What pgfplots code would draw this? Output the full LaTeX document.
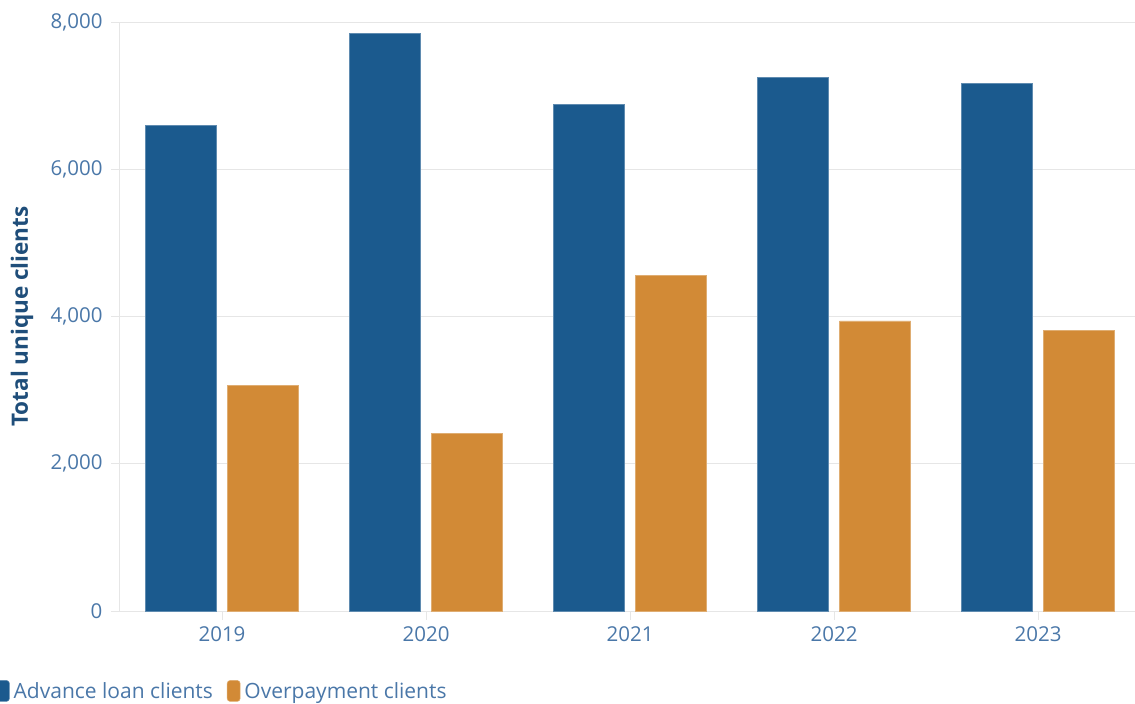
\documentclass[border=0pt]{standalone}
\usepackage{pgfplots}
\pgfplotsset{compat=1.18}
\usepackage{fontspec}
\setmainfont{Open Sans}
\definecolor{barblue}{HTML}{1B5A8E}
\definecolor{barorange}{HTML}{D28A36}
\definecolor{ticktext}{HTML}{4A77A8}
\definecolor{labeltext}{HTML}{1F4E7A}
\definecolor{gridgray}{HTML}{E6E6E6}
\begin{document}
\begin{tikzpicture}
\begin{axis}[
  at={(0,0)}, anchor=south west,
  scale only axis,
  width=1015pt, height=589pt,
  xmin=-0.5, xmax=4.475,
  ymin=0, ymax=8000,
  xtick={0,1,2,3,4},
  xticklabels={2019,2020,2021,2022,2023},
  ytick={0,2000,4000,6000,8000},
  /pgf/number format/assume math mode=true,
  yticklabel style={/pgf/number format/1000 sep={,}},
  scaled y ticks=false,
  tick label style={font=\fontsize{20.5}{24}\selectfont, text=ticktext},
  ymajorgrids, grid style={gridgray, line width=1pt},
  axis line style={draw=none},
  axis x line*=bottom, axis y line*=left,
  x axis line style={draw=gridgray, line width=1pt},
  y axis line style={draw=gridgray, line width=1pt},
  xtick style={draw=gridgray, line width=1pt},
  ytick style={draw=gridgray, line width=1pt},
  tick align=outside,
  major tick length=9pt,
  xticklabel shift=3pt,
  yticklabel shift=5pt,
  ylabel={\textbf{Total unique clients}},
  ylabel style={font=\fontsize{22.5}{26}\selectfont, text=labeltext, at={(axis description cs:-0.0966,0.5)}, anchor=center},
  ybar, bar width=71pt,
  legend style={at={(axis description cs:0,0)}, anchor=north west, xshift=-127pt, yshift=-67pt, draw=none, fill=none,
    font=\fontsize{21}{24}\selectfont, text=ticktext, column sep=1pt,
    /tikz/every odd column/.append style={column sep=2pt},
    /tikz/every even column/.append style={column sep=12pt}},
  legend columns=2,
  legend image code/.code={\fill[#1, rounded corners=3pt] (0pt,-10.5pt) rectangle (13pt,10.5pt);},
  clip=false,
]
\addplot[fill=barblue, draw=barblue!70!white, line width=0.5pt, bar shift=-41pt] coordinates {(0,6600) (1,7850) (2,6886) (3,7252) (4,7171)};
\addplot[fill=barorange, draw=barorange!70!white, line width=0.5pt, bar shift=41pt] coordinates {(0,3069) (1,2417) (2,4563) (3,3939) (4,3816)};
\legend{Advance loan clients,Overpayment clients}
\end{axis}
\pgfresetboundingbox
\path[use as bounding box] (-120pt,-93pt) rectangle (1015pt,611pt);
\end{tikzpicture}
\end{document}
